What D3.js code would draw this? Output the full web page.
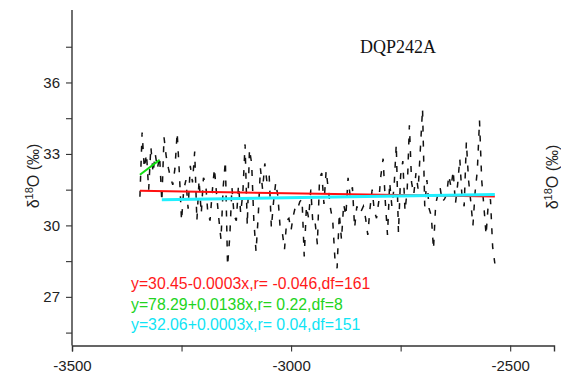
<!DOCTYPE html>
<html>
<head>
<meta charset="utf-8">
<script src="https://cdn.jsdelivr.net/npm/d3@7"></script>
<style>
  html, body { margin: 0; padding: 0; background: #fff; }
  svg { display: block; }
</style>
</head>
<body>
<svg id="chart" width="561" height="376"></svg>
<script>
// Sample ages (years, negative = BC)
const years = [
  -3345,-3340,-3335,-3330,-3325,-3320,-3315,-3310,-3305,-3300,
  -3295,-3290,-3285,-3280,-3275,-3270,-3265,-3260,-3255,-3250,
  -3245,-3240,-3235,-3230,-3225,-3220,-3215,-3210,-3205,-3200,
  -3195,-3190,-3185,-3180,-3175,-3170,-3165,-3160,-3155,-3150,
  -3145,-3140,-3135,-3130,-3125,-3120,-3115,-3110,-3105,-3100,
  -3095,-3090,-3085,-3080,-3075,-3070,-3065,-3060,-3055,-3050,
  -3045,-3040,-3035,-3030,-3025,-3020,-3015,-3010,-3005,-3000,
  -2995,-2990,-2985,-2980,-2975,-2970,-2965,-2960,-2955,-2950,
  -2945,-2940,-2935,-2930,-2925,-2920,-2915,-2910,-2905,-2900,
  -2895,-2890,-2885,-2880,-2875,-2870,-2865,-2860,-2855,-2850,
  -2845,-2840,-2835,-2830,-2825,-2820,-2815,-2810,-2805,-2800,
  -2795,-2790,-2785,-2780,-2775,-2770,-2765,-2760,-2755,-2750,
  -2745,-2740,-2735,-2730,-2725,-2720,-2715,-2710,-2705,-2700,
  -2695,-2690,-2685,-2680,-2675,-2670,-2665,-2660,-2655,-2650,
  -2645,-2640,-2635,-2630,-2625,-2620,-2615,-2610,-2605,-2600,
  -2595,-2590,-2585,-2580,-2575,-2570,-2565,-2560,-2555,-2550,
  -2545,-2540,-2535
];

// δ18O (‰) for each sample
const d18O = [
  31.2, 33.9, 32.4, 33.0, 31.5, 33.3, 32.2, 33.0, 32.4, 32.9,
  31.0, 33.7, 32.9, 32.4, 32.0, 31.7, 32.4, 33.9, 32.2, 30.2,
  31.5, 31.9, 30.7, 32.5, 31.8, 33.1, 30.2, 31.9, 30.5, 32.0,
  31.8, 30.5, 30.2, 31.4, 32.4, 31.3, 30.3, 29.4, 31.6, 32.7,
  28.3, 29.5, 31.6, 30.4, 30.2, 31.7, 30.5, 31.4, 33.4, 30.0,
  33.2, 32.6, 30.2, 28.9, 30.4, 32.4, 31.5, 32.6, 31.8, 32.1,
  29.9, 31.0, 31.8, 31.2, 29.9, 29.7, 29.0, 30.2, 30.3, 29.8,
  30.4, 30.8, 30.7, 31.0, 31.1, 28.7, 30.8, 30.3, 31.5, 30.0,
  30.1, 29.2, 32.0, 32.2, 30.9, 32.3, 31.5, 30.7, 30.2, 28.6,
  28.2, 30.5, 29.4, 30.9, 30.4, 32.0, 31.2, 31.6, 29.9, 30.8,
  30.5, 30.6, 30.8, 30.3, 29.6, 30.7, 31.5, 30.6, 30.3, 31.0,
  32.1, 32.8, 31.0, 29.6, 31.8, 30.8, 31.6, 33.4, 29.7, 32.1,
  32.7, 30.6, 31.5, 34.2, 31.8, 31.3, 32.2, 31.5, 33.2, 34.9,
  30.8, 31.9, 30.7, 30.4, 29.0, 30.9, 31.3, 31.6, 31.0, 31.1,
  31.3, 32.1, 31.6, 32.3, 30.9, 31.7, 32.8, 31.2, 30.8, 33.5,
  31.9, 31.0, 30.0, 31.4, 32.3, 34.4, 31.9, 30.8, 29.6, 30.9,
  31.1, 29.1, 28.4
];

// Linear fits: intercept, slope, index range [first, last] of samples used
const fitNames      = ["all", "early", "late"];
const fitIntercepts = [30.45, 78.29, 32.06];
const fitSlopes     = [-0.0003, 0.0138, 0.0003];
const fitStart      = [0, 0, 10];
const fitEnd        = [162, 9, 162];
const fitColors     = ["#ff1010", "#10dd10", "#20f0ff"];
const fitWidths     = [2, 2, 3];
const fitLabels     = [
  "y=30.45-0.0003x,r= -0.046,df=161",
  "y=78.29+0.0138x,r= 0.22,df=8",
  "y=32.06+0.0003x,r= 0.04,df=151"
];
const labelColors   = ["#ff1a1a", "#22d422", "#10e4f4"];

// Axis ticks
const xMajorTicks = [-3500, -3000, -2500];
const xMinorTicks = [-3250, -2750];
const yMajorTicks = [27, 30, 33, 36];
const yMinorTicks = [25.5, 28.5, 31.5, 34.5, 37.5];

const title = "DQP242A";

const svg = d3.select("#chart");
const x = d3.scaleLinear().domain([-3500, -2400]).range([72, 554]);
const y = d3.scaleLinear().domain([25, 39]).range([344.5, 11]);

const axisColor = "#333";
const tickFont = "'Liberation Sans', Arial, sans-serif";
const fmtSigned = d => (d < 0 ? "-" + Math.abs(d) : String(d));

// Left y axis (major + minor ticks)
const gy = svg.append("g").attr("transform", "translate(72,0)");
const gyMajor = gy.append("g")
  .call(d3.axisLeft(y).tickValues(yMajorTicks).tickSize(6).tickPadding(6).tickFormat(fmtSigned));
gy.append("g").call(d3.axisLeft(y).tickValues(yMinorTicks).tickSize(6).tickFormat(""))
  .select(".domain").remove();
gyMajor.select(".domain").attr("d", "M0,10V345.5");

// Bottom x axis (major + minor ticks)
const gx = svg.append("g").attr("transform", "translate(0,345.5)");
const gxMajor = gx.append("g")
  .call(d3.axisBottom(x).tickValues(xMajorTicks).tickSize(6).tickPadding(9).tickFormat(fmtSigned));
gx.append("g").call(d3.axisBottom(x).tickValues(xMinorTicks).tickSize(6).tickFormat(""))
  .select(".domain").remove();

svg.selectAll(".domain").attr("stroke", axisColor).attr("stroke-width", 1.4);
svg.selectAll(".tick line").attr("stroke", axisColor).attr("stroke-width", 1.1);
svg.selectAll(".tick text")
  .attr("font-family", tickFont)
  .attr("font-size", 15)
  .attr("fill", "#222");

// δ18O series, drawn dashed
const line = d3.line().x((d, i) => x(years[i])).y(d => y(d));
svg.append("path")
  .datum(d18O)
  .attr("d", line)
  .attr("fill", "none")
  .attr("stroke", "#111")
  .attr("stroke-width", 1.5)
  .attr("stroke-dasharray", "6,9");

// Regression lines
fitNames.forEach((name, k) => {
  const x0 = years[fitStart[k]], x1 = years[fitEnd[k]];
  const f = xv => fitIntercepts[k] + fitSlopes[k] * xv;
  svg.append("line")
    .attr("class", "fit-" + name)
    .attr("x1", x(x0)).attr("y1", y(f(x0)))
    .attr("x2", x(x1)).attr("y2", y(f(x1)))
    .attr("stroke", fitColors[k])
    .attr("stroke-width", fitWidths[k]);
});

// Fit equations
fitLabels.forEach((t, k) => {
  svg.append("text")
    .attr("x", 131).attr("y", 289 + k * 20.5)
    .attr("font-family", tickFont)
    .attr("font-size", 15.8)
    .attr("fill", labelColors[k])
    .text(t);
});

// Title
svg.append("text")
  .attr("x", 360).attr("y", 53)
  .attr("font-family", "'Liberation Serif', 'Times New Roman', serif")
  .attr("font-size", 18)
  .attr("fill", "#111")
  .text(title);

// Axis titles (left and right)
function yTitle(cx, cy) {
  const t = svg.append("text")
    .attr("transform", `translate(${cx},${cy}) rotate(-90)`)
    .attr("text-anchor", "middle")
    .attr("font-family", tickFont)
    .attr("font-size", 16)
    .attr("fill", "#222");
  t.append("tspan").text("\u03b4");
  t.append("tspan").attr("font-size", 11).attr("dy", -6).text("18");
  t.append("tspan").attr("dy", 6).text("O (\u2030)");
}
yTitle(38.5, 176);
yTitle(558, 177);
</script>
</body>
</html>
